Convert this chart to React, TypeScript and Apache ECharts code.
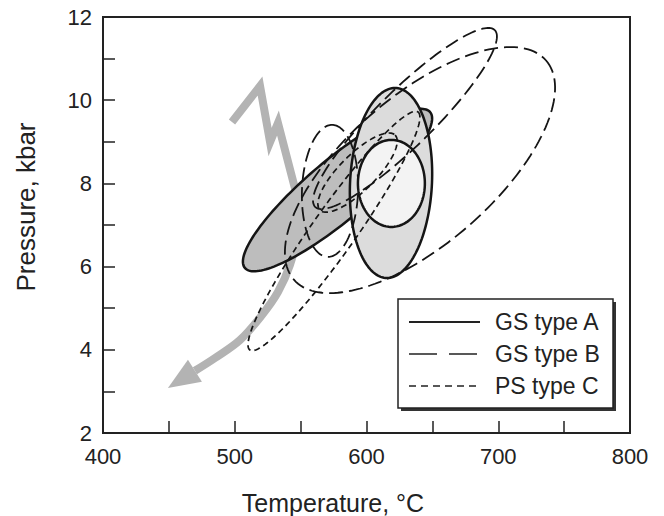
import React, { useEffect, useRef } from "react";
import * as echarts from "echarts";

// Axis ticks
const xTickValues = [400, 500, 600, 700, 800];
const yTickValues = [2, 4, 6, 8, 10, 12];

// GS type A (solid) fields: centre (T, P) and two conjugate semi-axes (dT, dP)
const gsA_centerT = [578.0, 618.6, 618.9];
const gsA_centerP = [7.84, 8.01, 8.0];
const gsA_axis1T = [70.3, 3.04, 0];
const gsA_axis1P = [1.873, 2.284, 1.046];
const gsA_axis2T = [14.66, 31.1, 25.4];
const gsA_axis2P = [-0.552, 0, 0];

// GS type B (long dash) fields
const gsB_centerT = [640.6, 629.2, 572.3];
const gsB_centerP = [8.32, 9.56, 7.82];
const gsB_axis1T = [95.7, 68.2, 1.52];
const gsB_axis1P = [2.635, 2.123, 1.587];
const gsB_axis2T = [36.8, 14.9, 21.3];
const gsB_axis2P = [-1.343, -0.48, 0];

// PS type C (short dash) fields
const psC_centerT = [575.3, 593.2];
const psC_centerP = [6.856, 8.26];
const psC_axis1T = [63.8, 28.5];
const psC_axis1P = [2.861, 0.901];
const psC_axis2T = [13.6, 9.66];
const psC_axis2P = [-0.305, -0.306];

// Grey P-T path (zigzag part then curved tail) and arrow tip
const pathT = [497.9, 519.2, 526.8, 532.8, 548.0, 547.2, 541.9, 532.8, 520.7, 504.0, 485.0];
const pathP = [9.476, 10.341, 8.995, 9.452, 7.601, 6.76, 6.038, 5.389, 4.837, 4.236, 3.803];
const zigzagCount = 5;
const arrowTip = [449.3, 3.082];

const legendNames = ["GS type A", "GS type B", "PS type C"];

const FONT = "'Liberation Sans', Arial, Helvetica, sans-serif";
const INK = "#222";

function rows(cT: number[], cP: number[], aT: number[], aP: number[], bT: number[], bP: number[]) {
  return cT.map((t, i) => [t, cP[i], aT[i], aP[i], bT[i], bP[i]]);
}

function ellipseRenderer(styleFor: (i: number) => any) {
  return (params: any, api: any) => {
    const cT = api.value(0), cP = api.value(1);
    const aT = api.value(2), aP = api.value(3);
    const bT = api.value(4), bP = api.value(5);
    const pts: number[][] = [];
    const N = 160;
    for (let k = 0; k < N; k++) {
      const t = (2 * Math.PI * k) / N;
      pts.push(
        api.coord([
          cT + aT * Math.cos(t) + bT * Math.sin(t),
          cP + aP * Math.cos(t) + bP * Math.sin(t),
        ])
      );
    }
    return { type: "polygon", shape: { points: pts }, style: styleFor(params.dataIndex) };
  };
}

export default function App() {
  const ref = useRef<HTMLDivElement>(null);

  useEffect(() => {
    if (!ref.current) return;
    const chart = echarts.init(ref.current, undefined, { renderer: "svg" });

    const fillsA = ["#bdbdbd", "#dcdcdc", "#f3f3f3"];

    const axisCommon = {
      type: "value" as const,
      axisLine: { show: true, lineStyle: { color: INK, width: 2 } },
      axisTick: { show: true, inside: true, length: 12, lineStyle: { color: INK, width: 1.5 } },
      minorTick: { show: true, splitNumber: 2, length: 12, lineStyle: { color: INK, width: 1.5 } },
      splitLine: { show: false },
      minorSplitLine: { show: false },
    };

    const legendX0 = 409, legendX1 = 480, legendTextX = 495;
    const legendRowsY = [322, 354, 386];
    const legendDashes: any[] = [null, [28, 12], [7, 5]];

    const graphic: any[] = [
      { type: "rect", z: 100, shape: { x: 401, y: 302, width: 215, height: 109 }, style: { fill: "#333" } },
      { type: "rect", z: 101, shape: { x: 398, y: 299, width: 215, height: 109 }, style: { fill: "#fff", stroke: INK, lineWidth: 1.5 } },
      {
        type: "text", z: 101, x: 333, y: 503,
        style: { text: "Temperature, °C", fontSize: 25, fontFamily: FONT, fill: INK, align: "center", verticalAlign: "middle" },
      },
      {
        type: "text", z: 101, x: 26, y: 207, rotation: Math.PI / 2,
        style: { text: "Pressure, kbar", fontSize: 26, fontFamily: FONT, fill: INK, align: "center", verticalAlign: "middle" },
      },
    ];
    legendNames.forEach((name, i) => {
      graphic.push({
        type: "line", z: 102,
        shape: { x1: legendX0, y1: legendRowsY[i], x2: legendX1, y2: legendRowsY[i] },
        style: { stroke: INK, lineWidth: i === 0 ? 1.8 : 1.6, lineDash: legendDashes[i] || undefined },
      });
      graphic.push({
        type: "text", z: 102, x: legendTextX, y: legendRowsY[i],
        style: { text: name, fontSize: 23, fontFamily: FONT, fill: INK, align: "left", verticalAlign: "middle" },
      });
    });

    const option: any = {
      animation: false,
      backgroundColor: "#fff",
      grid: { left: 103, right: 34, top: 17, bottom: 83, show: true, borderColor: INK, borderWidth: 2 },
      xAxis: {
        ...axisCommon,
        min: xTickValues[0],
        max: xTickValues[xTickValues.length - 1],
        interval: xTickValues[1] - xTickValues[0],
        axisLabel: { fontSize: 22, color: INK, margin: 12, fontFamily: FONT },
      },
      yAxis: {
        ...axisCommon,
        min: yTickValues[0],
        max: yTickValues[yTickValues.length - 1],
        interval: yTickValues[1] - yTickValues[0],
        axisLabel: { fontSize: 22, color: INK, margin: 11, fontFamily: FONT },
      },
      graphic,
      series: [
        {
          name: "P-T path",
          type: "custom",
          z: 1,
          silent: true,
          data: pathT.map((t, i) => [t, pathP[i]]),
          encode: { x: 0, y: 1 },
          renderItem: (params: any, api: any) => {
            if (params.dataIndex !== 0) return null;
            const pts = pathT.map((t, i) => api.coord([t, pathP[i]]));
            const zig = pts.slice(0, zigzagCount);
            const tail = pts.slice(zigzagCount - 1);
            const tip = api.coord(arrowTip);
            const last = pts[pts.length - 1];
            let dx = last[0] - tip[0], dy = last[1] - tip[1];
            const len = Math.hypot(dx, dy);
            dx /= len; dy /= len;
            const headLen = 32, headHalf = 13;
            const base = [tip[0] + dx * headLen, tip[1] + dy * headLen];
            const c1 = [base[0] - dy * headHalf, base[1] + dx * headHalf];
            const c2 = [base[0] + dy * headHalf, base[1] - dx * headHalf];
            const grey = "#b3b3b3";
            return {
              type: "group",
              children: [
                { type: "polyline", shape: { points: zig }, style: { stroke: grey, lineWidth: 8, fill: "none", lineJoin: "miter", miterLimit: 10 } },
                { type: "polyline", shape: { points: [...tail, base], smooth: 0.35 }, style: { stroke: grey, lineWidth: 8, fill: "none" } },
                { type: "polygon", shape: { points: [tip, c1, c2] }, style: { fill: grey } },
              ],
            };
          },
        },
        {
          name: legendNames[0],
          type: "custom",
          z: 2,
          silent: true,
          data: rows(gsA_centerT, gsA_centerP, gsA_axis1T, gsA_axis1P, gsA_axis2T, gsA_axis2P),
          encode: { x: 0, y: 1 },
          renderItem: ellipseRenderer((i) => ({ fill: fillsA[i], stroke: "#151515", lineWidth: 2.5 })),
        },
        {
          name: legendNames[1],
          type: "custom",
          z: 3,
          silent: true,
          data: rows(gsB_centerT, gsB_centerP, gsB_axis1T, gsB_axis1P, gsB_axis2T, gsB_axis2P),
          encode: { x: 0, y: 1 },
          renderItem: ellipseRenderer(() => ({ fill: "none", stroke: "#151515", lineWidth: 1.8, lineDash: [14, 6] })),
        },
        {
          name: legendNames[2],
          type: "custom",
          z: 3,
          silent: true,
          data: rows(psC_centerT, psC_centerP, psC_axis1T, psC_axis1P, psC_axis2T, psC_axis2P),
          encode: { x: 0, y: 1 },
          renderItem: ellipseRenderer(() => ({ fill: "none", stroke: "#151515", lineWidth: 1.7, lineDash: [6, 4] })),
        },
      ],
    };

    chart.setOption(option);
    return () => chart.dispose();
  }, []);

  return <div ref={ref} style={{ position: "fixed", left: 0, top: 0, width: 664, height: 516 }} />;
}
